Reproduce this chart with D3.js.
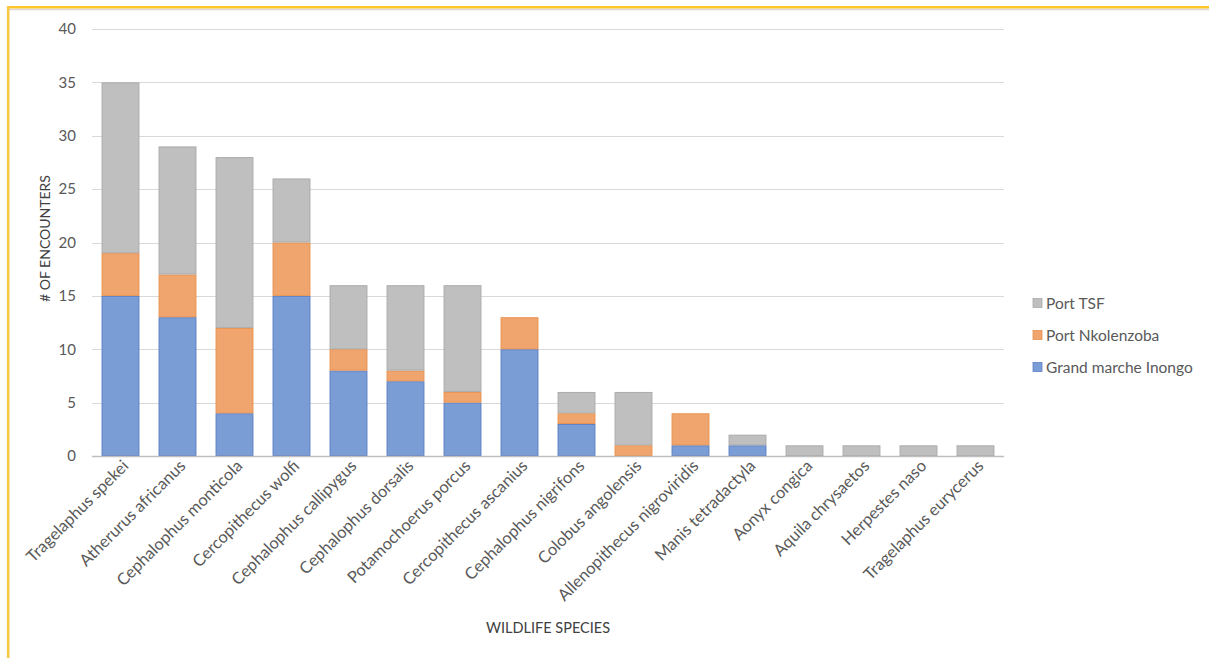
<!DOCTYPE html>
<html>
<head>
<meta charset="utf-8">
<script src="https://cdn.jsdelivr.net/npm/d3@7"></script>
<style>
  html, body { margin: 0; padding: 0; background: #fff; }
  svg { display: block; }
  text { font-family: Lato, "Open Sans", sans-serif; }
</style>
</head>
<body>
<svg id="chart" width="1209" height="658"></svg>
<script>
const categories = [
  "Tragelaphus spekei", "Atherurus africanus", "Cephalophus monticola", "Cercopithecus wolfi",
  "Cephalophus callipygus", "Cephalophus dorsalis", "Potamochoerus porcus", "Cercopithecus ascanius",
  "Cephalophus nigrifons", "Colobus angolensis", "Allenopithecus nigroviridis", "Manis tetradactyla",
  "Aonyx congica", "Aquila chrysaetos", "Herpestes naso", "Tragelaphus eurycerus"
];
const grandMarcheInongo = [15, 13, 4, 15, 8, 7, 5, 10, 3, 0, 1, 1, 0, 0, 0, 0];
const portNkolenzoba    = [4, 4, 8, 5, 2, 1, 1, 3, 1, 1, 3, 0, 0, 0, 0, 0];
const portTSF           = [16, 12, 16, 6, 6, 8, 10, 0, 2, 5, 0, 1, 1, 1, 1, 1];
const seriesNames = ["Grand marche Inongo", "Port Nkolenzoba", "Port TSF"];
const yTicks = [0, 5, 10, 15, 20, 25, 30, 35, 40];

const fills = ["#7B9DD5", "#F0A56E", "#BFBFBF"];
const strokes = ["#5E80C6", "#E8924F", "#ABABAB"];

const svg = d3.select("#chart");

// frame (yellow border, partial)
svg.append("line").attr("x1", 8).attr("x2", 1209).attr("y1", 9.5).attr("y2", 9.5)
  .attr("stroke", "#D8D8D8").attr("stroke-width", 1.5);
svg.append("line").attr("x1", 8).attr("x2", 1209).attr("y1", 7.3).attr("y2", 7.3)
  .attr("stroke", "#FFC629").attr("stroke-width", 2.6);
svg.append("line").attr("x1", 8.2).attr("x2", 8.2).attr("y1", 6).attr("y2", 658)
  .attr("stroke", "#F7C844").attr("stroke-width", 2.6);

const margin = { left: 92, right: 1004, top: 29, bottom: 456 };

const x = d3.scaleBand().domain(categories).range([margin.left, margin.right])
  .paddingInner(0.335).paddingOuter(0.1675);
const y = d3.scaleLinear().domain([0, 40]).range([margin.bottom, margin.top]);

// gridlines
svg.append("g").selectAll("line").data(yTicks.filter(d => d > 0)).join("line")
  .attr("x1", margin.left).attr("x2", margin.right)
  .attr("y1", d => Math.round(y(d)) + 0.5).attr("y2", d => Math.round(y(d)) + 0.5)
  .attr("stroke", "#D9D9D9").attr("stroke-width", 1);

// y axis labels
const yAxis = d3.axisLeft(y).tickValues(yTicks).tickSize(0).tickPadding(16);
const yg = svg.append("g").attr("transform", `translate(${margin.left},0)`).call(yAxis);
yg.select(".domain").remove();
yg.selectAll("text").attr("font-size", 15).attr("fill", "#595959")
  .style("font-family", "Lato, 'Open Sans', sans-serif");

// stacked data
const rows = categories.map((c, i) => ({
  cat: c,
  "Grand marche Inongo": grandMarcheInongo[i],
  "Port Nkolenzoba": portNkolenzoba[i],
  "Port TSF": portTSF[i]
}));
const stacked = d3.stack().keys(seriesNames)(rows);

svg.append("g").selectAll("g").data(stacked).join("g")
  .attr("fill", (d, i) => fills[i]).attr("stroke", (d, i) => strokes[i])
  .attr("stroke-width", 1)
  .selectAll("rect").data(d => d.filter(s => s[1] - s[0] > 0)).join("rect")
  .attr("x", d => x(d.data.cat) + 0.5)
  .attr("width", x.bandwidth() - 1)
  .attr("y", d => y(d[1]) + 0.5)
  .attr("height", d => y(d[0]) - y(d[1]) - 1);

// x axis line
svg.append("line").attr("x1", margin.left).attr("x2", margin.right)
  .attr("y1", margin.bottom + 0.5).attr("y2", margin.bottom + 0.5)
  .attr("stroke", "#BFBFBF").attr("stroke-width", 1.5);

// x axis labels (rotated)
const xAxis = d3.axisBottom(x).tickSize(0).tickPadding(0);
const xg = svg.append("g").attr("transform", `translate(0,${margin.bottom})`).call(xAxis);
xg.select(".domain").remove();
xg.selectAll("text")
  .attr("font-size", 16.5).attr("fill", "#595959")
  .style("font-family", "Lato, 'Open Sans', sans-serif")
  .attr("text-anchor", "end")
  .attr("dy", "0")
  .attr("transform", "translate(9,11) rotate(-45)");

// axis titles
svg.append("text").attr("x", (margin.left + margin.right) / 2).attr("y", 633)
  .attr("text-anchor", "middle").attr("font-size", 14.5).attr("fill", "#404040")
  .text("WILDLIFE SPECIES");
svg.append("text")
  .attr("transform", `translate(50,${(margin.top + margin.bottom) / 2 - 4}) rotate(-90)`)
  .attr("text-anchor", "middle").attr("font-size", 14).attr("fill", "#404040")
  .text("# OF ENCOUNTERS");

// legend (reverse order)
const legendItems = seriesNames.map((n, i) => ({ name: n, i })).reverse();
const lg = svg.append("g").selectAll("g").data(legendItems).join("g")
  .attr("transform", (d, k) => `translate(1033,${303 + k * 32})`);
lg.append("rect").attr("x", 0).attr("y", -4.5).attr("width", 9).attr("height", 9)
  .attr("fill", d => fills[d.i]).attr("stroke", d => strokes[d.i]).attr("stroke-width", 0.8);
lg.append("text").attr("x", 13).attr("y", 5.5).attr("font-size", 15.5).attr("fill", "#595959")
  .text(d => d.name);
</script>
</body>
</html>
